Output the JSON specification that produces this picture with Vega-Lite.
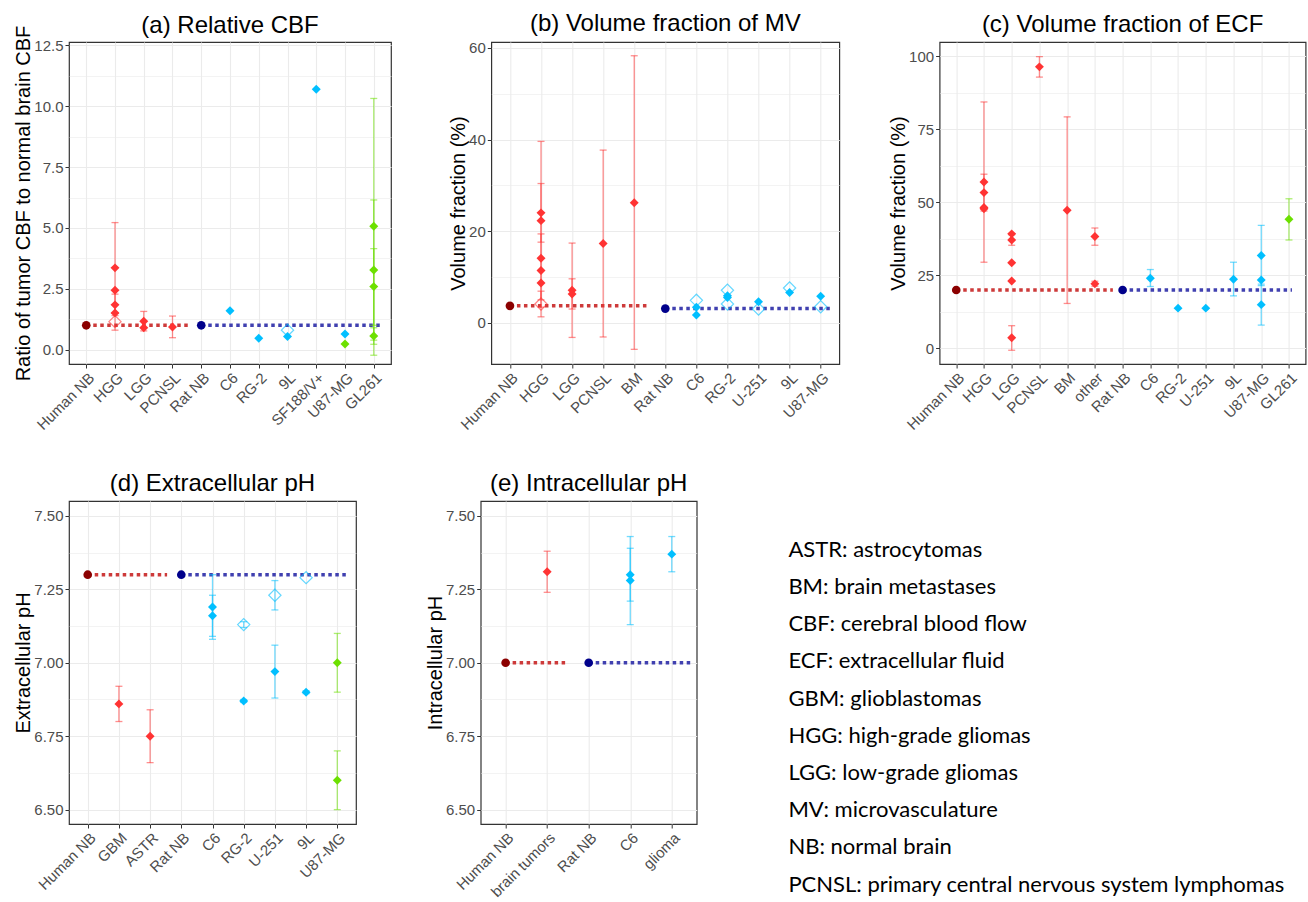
{
  "$schema": "https://vega.github.io/schema/vega-lite/v6.json",
  "padding": {"left": 13, "top": 11, "right": 0, "bottom": 0},
  "datasets": {
    "pts": [
      {"panel":"a","cat":"Human NB","group":"Human NB","series":"nb","value":1},
      {"panel":"a","cat":"HGG","group":"Human","series":"main","value":3.36,"lo":1.5,"hi":5.22},
      {"panel":"a","cat":"HGG","group":"Human","series":"main","value":2.44},
      {"panel":"a","cat":"HGG","group":"Human","series":"main","value":1.84,"lo":1.4,"hi":2.28},
      {"panel":"a","cat":"HGG","group":"Human","series":"main","value":1.51},
      {"panel":"a","cat":"HGG","group":"Human","series":"alt","value":1.15,"lo":0.8,"hi":1.5},
      {"panel":"a","cat":"LGG","group":"Human","series":"main","value":1.17,"lo":0.77,"hi":1.57},
      {"panel":"a","cat":"LGG","group":"Human","series":"main","value":0.9},
      {"panel":"a","cat":"PCNSL","group":"Human","series":"main","value":0.93,"lo":0.49,"hi":1.38},
      {"panel":"a","cat":"Rat NB","group":"Rat NB","series":"nb","value":1},
      {"panel":"a","cat":"C6","group":"Rat","series":"main","value":1.6},
      {"panel":"a","cat":"RG-2","group":"Rat","series":"main","value":0.47},
      {"panel":"a","cat":"9L","group":"Rat","series":"main","value":0.54},
      {"panel":"a","cat":"9L","group":"Rat","series":"alt","value":0.8},
      {"panel":"a","cat":"SF188/V+","group":"Rat","series":"main","value":10.7},
      {"panel":"a","cat":"U87-MG","group":"Rat","series":"main","value":0.64},
      {"panel":"a","cat":"U87-MG","group":"Mouse","series":"main","value":0.23},
      {"panel":"a","cat":"GL261","group":"Mouse","series":"main","value":5.07,"lo":-0.23,"hi":10.32},
      {"panel":"a","cat":"GL261","group":"Mouse","series":"main","value":3.27,"lo":0.39,"hi":6.15},
      {"panel":"a","cat":"GL261","group":"Mouse","series":"main","value":2.59,"lo":1.0,"hi":4.15},
      {"panel":"a","cat":"GL261","group":"Mouse","series":"main","value":0.56,"lo":0.22,"hi":0.9},

      {"panel":"b","cat":"Human NB","group":"Human NB","series":"nb","value":3.7},
      {"panel":"b","cat":"HGG","group":"Human","series":"main","value":24.0,"lo":17.6,"hi":30.4},
      {"panel":"b","cat":"HGG","group":"Human","series":"main","value":22.3,"lo":5.0,"hi":39.6},
      {"panel":"b","cat":"HGG","group":"Human","series":"main","value":14.1},
      {"panel":"b","cat":"HGG","group":"Human","series":"main","value":11.4,"lo":3.4,"hi":19.4},
      {"panel":"b","cat":"HGG","group":"Human","series":"main","value":8.7},
      {"panel":"b","cat":"HGG","group":"Human","series":"alt","value":4.1,"lo":1.3,"hi":6.9},
      {"panel":"b","cat":"LGG","group":"Human","series":"main","value":7.1,"lo":-3.2,"hi":17.4},
      {"panel":"b","cat":"LGG","group":"Human","series":"main","value":6.3,"lo":3.0,"hi":9.6},
      {"panel":"b","cat":"PCNSL","group":"Human","series":"main","value":17.3,"lo":-3.1,"hi":37.7},
      {"panel":"b","cat":"BM","group":"Human","series":"main","value":26.2,"lo":-5.8,"hi":58.3},
      {"panel":"b","cat":"Rat NB","group":"Rat NB","series":"nb","value":3.1},
      {"panel":"b","cat":"C6","group":"Rat","series":"main","value":3.4},
      {"panel":"b","cat":"C6","group":"Rat","series":"main","value":1.7},
      {"panel":"b","cat":"C6","group":"Rat","series":"alt","value":4.9},
      {"panel":"b","cat":"RG-2","group":"Rat","series":"main","value":5.9},
      {"panel":"b","cat":"RG-2","group":"Rat","series":"main","value":5.5},
      {"panel":"b","cat":"RG-2","group":"Rat","series":"alt","value":7.1},
      {"panel":"b","cat":"RG-2","group":"Rat","series":"alt","value":4.1},
      {"panel":"b","cat":"U-251","group":"Rat","series":"main","value":4.6},
      {"panel":"b","cat":"U-251","group":"Rat","series":"alt","value":3.0},
      {"panel":"b","cat":"9L","group":"Rat","series":"main","value":6.6},
      {"panel":"b","cat":"9L","group":"Rat","series":"alt","value":7.6},
      {"panel":"b","cat":"U87-MG","group":"Rat","series":"main","value":5.8},
      {"panel":"b","cat":"U87-MG","group":"Rat","series":"alt","value":3.5},

      {"panel":"c","cat":"Human NB","group":"Human NB","series":"nb","value":20},
      {"panel":"c","cat":"HGG","group":"Human","series":"main","value":56.9,"lo":29.5,"hi":84.3},
      {"panel":"c","cat":"HGG","group":"Human","series":"main","value":53.3,"lo":47.0,"hi":59.6},
      {"panel":"c","cat":"HGG","group":"Human","series":"main","value":48.2},
      {"panel":"c","cat":"HGG","group":"Human","series":"main","value":47.8},
      {"panel":"c","cat":"LGG","group":"Human","series":"main","value":39.2},
      {"panel":"c","cat":"LGG","group":"Human","series":"main","value":37.1,"lo":35.3,"hi":38.9},
      {"panel":"c","cat":"LGG","group":"Human","series":"main","value":29.3},
      {"panel":"c","cat":"LGG","group":"Human","series":"main","value":23.1},
      {"panel":"c","cat":"LGG","group":"Human","series":"main","value":3.7,"lo":-0.6,"hi":7.8},
      {"panel":"c","cat":"PCNSL","group":"Human","series":"main","value":96.3,"lo":92.8,"hi":99.8},
      {"panel":"c","cat":"BM","group":"Human","series":"main","value":47.3,"lo":15.4,"hi":79.2},
      {"panel":"c","cat":"other","group":"Human","series":"main","value":38.3,"lo":35.3,"hi":41.2},
      {"panel":"c","cat":"other","group":"Human","series":"main","value":22.1,"lo":21.3,"hi":23.0},
      {"panel":"c","cat":"Rat NB","group":"Rat NB","series":"nb","value":20},
      {"panel":"c","cat":"C6","group":"Rat","series":"main","value":24.0,"lo":21.2,"hi":27.0},
      {"panel":"c","cat":"RG-2","group":"Rat","series":"main","value":13.8},
      {"panel":"c","cat":"U-251","group":"Rat","series":"main","value":13.8},
      {"panel":"c","cat":"9L","group":"Rat","series":"main","value":23.7,"lo":18.0,"hi":29.5},
      {"panel":"c","cat":"U87-MG","group":"Rat","series":"main","value":31.8,"lo":21.5,"hi":42.1},
      {"panel":"c","cat":"U87-MG","group":"Rat","series":"main","value":23.4},
      {"panel":"c","cat":"U87-MG","group":"Rat","series":"main","value":15.0,"lo":8.0,"hi":22.0},
      {"panel":"c","cat":"GL261","group":"Mouse","series":"main","value":44.2,"lo":37.1,"hi":51.2},

      {"panel":"d","cat":"Human NB","group":"Human NB","series":"nb","value":7.3},
      {"panel":"d","cat":"GBM","group":"Human","series":"main","value":6.86,"lo":6.8,"hi":6.92},
      {"panel":"d","cat":"ASTR","group":"Human","series":"main","value":6.75,"lo":6.66,"hi":6.84},
      {"panel":"d","cat":"Rat NB","group":"Rat NB","series":"nb","value":7.3},
      {"panel":"d","cat":"C6","group":"Rat","series":"main","value":7.19,"lo":7.08,"hi":7.3},
      {"panel":"d","cat":"C6","group":"Rat","series":"main","value":7.16,"lo":7.09,"hi":7.23},
      {"panel":"d","cat":"RG-2","group":"Rat","series":"alt","value":7.13,"lo":7.12,"hi":7.14},
      {"panel":"d","cat":"RG-2","group":"Rat","series":"main","value":6.87,"lo":6.865,"hi":6.875},
      {"panel":"d","cat":"U-251","group":"Rat","series":"alt","value":7.23,"lo":7.18,"hi":7.28},
      {"panel":"d","cat":"U-251","group":"Rat","series":"main","value":6.97,"lo":6.88,"hi":7.06},
      {"panel":"d","cat":"9L","group":"Rat","series":"alt","value":7.29},
      {"panel":"d","cat":"9L","group":"Rat","series":"main","value":6.9,"lo":6.895,"hi":6.905},
      {"panel":"d","cat":"U87-MG","group":"Mouse","series":"main","value":7.0,"lo":6.9,"hi":7.1},
      {"panel":"d","cat":"U87-MG","group":"Mouse","series":"main","value":6.6,"lo":6.5,"hi":6.7},

      {"panel":"e","cat":"Human NB","group":"Human NB","series":"nb","value":7.0},
      {"panel":"e","cat":"brain tumors","group":"Human","series":"main","value":7.31,"lo":7.24,"hi":7.38},
      {"panel":"e","cat":"Rat NB","group":"Rat NB","series":"nb","value":7.0},
      {"panel":"e","cat":"C6","group":"Rat","series":"main","value":7.3,"lo":7.21,"hi":7.39},
      {"panel":"e","cat":"C6","group":"Rat","series":"main","value":7.28,"lo":7.13,"hi":7.43},
      {"panel":"e","cat":"glioma","group":"Rat","series":"main","value":7.37,"lo":7.31,"hi":7.43}
    ],
    "refs": [
      {"panel":"a","cat":"Human NB","end":"PCNSL","group":"Human ref","value":1},
      {"panel":"a","cat":"Rat NB","end":"GL261","group":"Rat ref","value":1},
      {"panel":"b","cat":"Human NB","end":"BM","group":"Human ref","value":3.7},
      {"panel":"b","cat":"Rat NB","end":"U87-MG","group":"Rat ref","value":3.1},
      {"panel":"c","cat":"Human NB","end":"other","group":"Human ref","value":20},
      {"panel":"c","cat":"Rat NB","end":"GL261","group":"Rat ref","value":20},
      {"panel":"d","cat":"Human NB","end":"ASTR","group":"Human ref","value":7.3},
      {"panel":"d","cat":"Rat NB","end":"U87-MG","group":"Rat ref","value":7.3},
      {"panel":"e","cat":"Human NB","end":"brain tumors","group":"Human ref","value":7.0},
      {"panel":"e","cat":"Rat NB","end":"glioma","group":"Rat ref","value":7.0}
    ],
    "abbr": [
      {"line":"ASTR: astrocytomas"},
      {"line":"BM: brain metastases"},
      {"line":"CBF: cerebral blood flow"},
      {"line":"ECF: extracellular fluid"},
      {"line":"GBM: glioblastomas"},
      {"line":"HGG: high-grade gliomas"},
      {"line":"LGG: low-grade gliomas"},
      {"line":"MV: microvasculature"},
      {"line":"NB: normal brain"},
      {"line":"PCNSL: primary central nervous system lymphomas"}
    ]
  },
  "vconcat": [
    {
      "hconcat": [
        {
          "width": 322, "height": 322,
          "title": {"text": "(a) Relative CBF", "offset": -13},
          "data": {"name": "pts"},
          "transform": [{"filter": "datum.panel == 'a'"}],
          "encoding": {
            "x": {"field": "cat", "type": "nominal", "title": null,
                  "scale": {"type": "point", "padding": 0.6, "domain": ["Human NB","HGG","LGG","PCNSL","Rat NB","C6","RG-2","9L","SF188/V+","U87-MG","GL261"]}},
            "y": {"field": "value", "type": "quantitative", "title": "Ratio of tumor CBF to normal brain CBF",
                  "scale": {"domain": [-0.59, 12.64], "nice": false, "zero": false},
                  "axis": {"values": [0,1.25,2.5,3.75,5,6.25,7.5,8.75,10,11.25,12.5],
                           "labelExpr": "datum.value % 2.5 == 0 ? format(datum.value, '.1f') : ''",
                           "tickOpacity": {"condition": {"test": "datum.value % 2.5 != 0", "value": 0}, "value": 1},
                           "gridWidth": {"condition": {"test": "datum.value % 2.5 != 0", "value": 0.6}, "value": 1.1}}},
            "color": {"field": "group", "type": "nominal", "legend": null,
                      "scale": {"domain": ["Human NB","Rat NB","Human","Rat","Mouse","Human ref","Rat ref"],
                                "range": ["#8B0000","#00008B","#FF3333","#00BFFF","#6CE000","#CD3A3A","#4040B0"]}}
          },
          "layer": [
            {"data": {"name": "refs"}, "transform": [{"filter": "datum.panel == 'a' && datum.group == 'Human ref'"}],
             "mark": {"type": "rule", "strokeDash": [3.5, 3.5], "strokeWidth": 3.5, "x2Offset": 17},
             "encoding": {"x2": {"field": "end"}}},
            {"data": {"name": "refs"}, "transform": [{"filter": "datum.panel == 'a' && datum.group == 'Rat ref'"}],
             "mark": {"type": "rule", "strokeDash": [3.5, 3.5], "strokeWidth": 3.5, "x2Offset": 7},
             "encoding": {"x2": {"field": "end"}}},
            {"transform": [{"filter": "isValid(datum.lo)"}],
             "mark": {"type": "rule", "opacity": 0.55, "strokeWidth": 1.3},
             "encoding": {"y": {"field": "lo", "type": "quantitative", "title": "Ratio of tumor CBF to normal brain CBF"}, "y2": {"field": "hi"}}},
            {"transform": [{"filter": "isValid(datum.lo)"}],
             "mark": {"type": "tick", "opacity": 0.55, "size": 7, "thickness": 1.3},
             "encoding": {"y": {"field": "lo", "type": "quantitative", "title": "Ratio of tumor CBF to normal brain CBF"}}},
            {"transform": [{"filter": "isValid(datum.hi)"}],
             "mark": {"type": "tick", "opacity": 0.55, "size": 7, "thickness": 1.3},
             "encoding": {"y": {"field": "hi", "type": "quantitative", "title": "Ratio of tumor CBF to normal brain CBF"}}},
            {"transform": [{"filter": "datum.series == 'alt'"}],
             "mark": {"type": "point", "shape": "diamond", "filled": false, "size": 150, "strokeWidth": 1.2, "opacity": 0.6}},
            {"transform": [{"filter": "datum.series == 'main'"}],
             "mark": {"type": "point", "shape": "diamond", "filled": true, "size": 80, "opacity": 1}},
            {"transform": [{"filter": "datum.series == 'nb'"}],
             "mark": {"type": "circle", "size": 75, "opacity": 1}}
          ]
        },
        {
          "width": 348, "height": 322,
          "title": "(b) Volume fraction of MV",
          "data": {"name": "pts"},
          "transform": [{"filter": "datum.panel == 'b'"}],
          "encoding": {
            "x": {"field": "cat", "type": "nominal", "title": null,
                  "scale": {"type": "point", "padding": 0.6, "domain": ["Human NB","HGG","LGG","PCNSL","BM","Rat NB","C6","RG-2","U-251","9L","U87-MG"]}},
            "y": {"field": "value", "type": "quantitative", "title": "Volume fraction (%)",
                  "scale": {"domain": [-9.0, 61.3], "nice": false, "zero": false},
                  "axis": {"values": [0,10,20,30,40,50,60],
                           "labelExpr": "datum.value % 20 == 0 ? format(datum.value, 'd') : ''",
                           "tickOpacity": {"condition": {"test": "datum.value % 20 != 0", "value": 0}, "value": 1},
                           "gridWidth": {"condition": {"test": "datum.value % 20 != 0", "value": 0.6}, "value": 1.1}}},
            "color": {"field": "group", "type": "nominal", "legend": null,
                      "scale": {"domain": ["Human NB","Rat NB","Human","Rat","Mouse","Human ref","Rat ref"],
                                "range": ["#8B0000","#00008B","#FF3333","#00BFFF","#6CE000","#CD3A3A","#4040B0"]}}
          },
          "layer": [
            {"data": {"name": "refs"}, "transform": [{"filter": "datum.panel == 'b' && datum.group == 'Human ref'"}],
             "mark": {"type": "rule", "strokeDash": [3.5, 3.5], "strokeWidth": 3.5, "x2Offset": 14},
             "encoding": {"x2": {"field": "end"}}},
            {"data": {"name": "refs"}, "transform": [{"filter": "datum.panel == 'b' && datum.group == 'Rat ref'"}],
             "mark": {"type": "rule", "strokeDash": [3.5, 3.5], "strokeWidth": 3.5, "x2Offset": 12},
             "encoding": {"x2": {"field": "end"}}},
            {"transform": [{"filter": "isValid(datum.lo)"}],
             "mark": {"type": "rule", "opacity": 0.55, "strokeWidth": 1.3},
             "encoding": {"y": {"field": "lo", "type": "quantitative", "title": "Volume fraction (%)"}, "y2": {"field": "hi"}}},
            {"transform": [{"filter": "isValid(datum.lo)"}],
             "mark": {"type": "tick", "opacity": 0.55, "size": 7, "thickness": 1.3},
             "encoding": {"y": {"field": "lo", "type": "quantitative", "title": "Volume fraction (%)"}}},
            {"transform": [{"filter": "isValid(datum.hi)"}],
             "mark": {"type": "tick", "opacity": 0.55, "size": 7, "thickness": 1.3},
             "encoding": {"y": {"field": "hi", "type": "quantitative", "title": "Volume fraction (%)"}}},
            {"transform": [{"filter": "datum.series == 'alt'"}],
             "mark": {"type": "point", "shape": "diamond", "filled": false, "size": 150, "strokeWidth": 1.2, "opacity": 0.6}},
            {"transform": [{"filter": "datum.series == 'main'"}],
             "mark": {"type": "point", "shape": "diamond", "filled": true, "size": 80, "opacity": 1}},
            {"transform": [{"filter": "datum.series == 'nb'"}],
             "mark": {"type": "circle", "size": 75, "opacity": 1}}
          ]
        },
        {
          "width": 366, "height": 322,
          "title": "(c) Volume fraction of ECF",
          "data": {"name": "pts"},
          "transform": [{"filter": "datum.panel == 'c'"}],
          "encoding": {
            "x": {"field": "cat", "type": "nominal", "title": null,
                  "scale": {"type": "point", "padding": 0.6, "domain": ["Human NB","HGG","LGG","PCNSL","BM","other","Rat NB","C6","RG-2","U-251","9L","U87-MG","GL261"]}},
            "y": {"field": "value", "type": "quantitative", "title": "Volume fraction (%)",
                  "scale": {"domain": [-5.3, 104.8], "nice": false, "zero": false},
                  "axis": {"values": [0,12.5,25,37.5,50,62.5,75,87.5,100],
                           "labelExpr": "datum.value % 25 == 0 ? format(datum.value, 'd') : ''",
                           "tickOpacity": {"condition": {"test": "datum.value % 25 != 0", "value": 0}, "value": 1},
                           "gridWidth": {"condition": {"test": "datum.value % 25 != 0", "value": 0.6}, "value": 1.1}}},
            "color": {"field": "group", "type": "nominal", "legend": null,
                      "scale": {"domain": ["Human NB","Rat NB","Human","Rat","Mouse","Human ref","Rat ref"],
                                "range": ["#8B0000","#00008B","#FF3333","#00BFFF","#6CE000","#CD3A3A","#4040B0"]}}
          },
          "layer": [
            {"data": {"name": "refs"}, "transform": [{"filter": "datum.panel == 'c' && datum.group == 'Human ref'"}],
             "mark": {"type": "rule", "strokeDash": [3.5, 3.5], "strokeWidth": 3.5, "x2Offset": 18},
             "encoding": {"x2": {"field": "end"}}},
            {"data": {"name": "refs"}, "transform": [{"filter": "datum.panel == 'c' && datum.group == 'Rat ref'"}],
             "mark": {"type": "rule", "strokeDash": [3.5, 3.5], "strokeWidth": 3.5, "x2Offset": 3},
             "encoding": {"x2": {"field": "end"}}},
            {"transform": [{"filter": "isValid(datum.lo)"}],
             "mark": {"type": "rule", "opacity": 0.55, "strokeWidth": 1.3},
             "encoding": {"y": {"field": "lo", "type": "quantitative", "title": "Volume fraction (%)"}, "y2": {"field": "hi"}}},
            {"transform": [{"filter": "isValid(datum.lo)"}],
             "mark": {"type": "tick", "opacity": 0.55, "size": 7, "thickness": 1.3},
             "encoding": {"y": {"field": "lo", "type": "quantitative", "title": "Volume fraction (%)"}}},
            {"transform": [{"filter": "isValid(datum.hi)"}],
             "mark": {"type": "tick", "opacity": 0.55, "size": 7, "thickness": 1.3},
             "encoding": {"y": {"field": "hi", "type": "quantitative", "title": "Volume fraction (%)"}}},
            {"transform": [{"filter": "datum.series == 'alt'"}],
             "mark": {"type": "point", "shape": "diamond", "filled": false, "size": 150, "strokeWidth": 1.2, "opacity": 0.6}},
            {"transform": [{"filter": "datum.series == 'main'"}],
             "mark": {"type": "point", "shape": "diamond", "filled": true, "size": 80, "opacity": 1}},
            {"transform": [{"filter": "datum.series == 'nb'"}],
             "mark": {"type": "circle", "size": 75, "opacity": 1}}
          ]
        }
      ],
      "spacing": 100.3,
      "bounds": "flush"
    },
    {
      "hconcat": [
        {
          "width": 287, "height": 323,
          "title": "(d) Extracellular pH",
          "data": {"name": "pts"},
          "transform": [{"filter": "datum.panel == 'd'"}],
          "encoding": {
            "x": {"field": "cat", "type": "nominal", "title": null,
                  "scale": {"type": "point", "padding": 0.6, "domain": ["Human NB","GBM","ASTR","Rat NB","C6","RG-2","U-251","9L","U87-MG"]}},
            "y": {"field": "value", "type": "quantitative", "title": "Extracellular pH",
                  "scale": {"domain": [6.451, 7.551], "nice": false, "zero": false},
                  "axis": {"values": [6.5,6.625,6.75,6.875,7,7.125,7.25,7.375,7.5],
                           "labelExpr": "abs(datum.value*4 - round(datum.value*4)) < 0.01 ? format(datum.value, '.2f') : ''",
                           "tickOpacity": {"condition": {"test": "abs(datum.value*4 - round(datum.value*4)) > 0.01", "value": 0}, "value": 1},
                           "gridWidth": {"condition": {"test": "abs(datum.value*4 - round(datum.value*4)) > 0.01", "value": 0.6}, "value": 1.1}}},
            "color": {"field": "group", "type": "nominal", "legend": null,
                      "scale": {"domain": ["Human NB","Rat NB","Human","Rat","Mouse","Human ref","Rat ref"],
                                "range": ["#8B0000","#00008B","#FF3333","#00BFFF","#6CE000","#CD3A3A","#4040B0"]}}
          },
          "layer": [
            {"data": {"name": "refs"}, "transform": [{"filter": "datum.panel == 'd' && datum.group == 'Human ref'"}],
             "mark": {"type": "rule", "strokeDash": [3.5, 3.5], "strokeWidth": 3.5, "x2Offset": 17},
             "encoding": {"x2": {"field": "end"}}},
            {"data": {"name": "refs"}, "transform": [{"filter": "datum.panel == 'd' && datum.group == 'Rat ref'"}],
             "mark": {"type": "rule", "strokeDash": [3.5, 3.5], "strokeWidth": 3.5, "x2Offset": 12},
             "encoding": {"x2": {"field": "end"}}},
            {"transform": [{"filter": "isValid(datum.lo)"}],
             "mark": {"type": "rule", "opacity": 0.55, "strokeWidth": 1.3},
             "encoding": {"y": {"field": "lo", "type": "quantitative", "title": "Extracellular pH"}, "y2": {"field": "hi"}}},
            {"transform": [{"filter": "isValid(datum.lo)"}],
             "mark": {"type": "tick", "opacity": 0.55, "size": 7, "thickness": 1.3},
             "encoding": {"y": {"field": "lo", "type": "quantitative", "title": "Extracellular pH"}}},
            {"transform": [{"filter": "isValid(datum.hi)"}],
             "mark": {"type": "tick", "opacity": 0.55, "size": 7, "thickness": 1.3},
             "encoding": {"y": {"field": "hi", "type": "quantitative", "title": "Extracellular pH"}}},
            {"transform": [{"filter": "datum.series == 'alt'"}],
             "mark": {"type": "point", "shape": "diamond", "filled": false, "size": 150, "strokeWidth": 1.2, "opacity": 0.6}},
            {"transform": [{"filter": "datum.series == 'main'"}],
             "mark": {"type": "point", "shape": "diamond", "filled": true, "size": 80, "opacity": 1}},
            {"transform": [{"filter": "datum.series == 'nb'"}],
             "mark": {"type": "circle", "size": 75, "opacity": 1}}
          ]
        },
        {
          "width": 216, "height": 323,
          "title": "(e) Intracellular pH",
          "data": {"name": "pts"},
          "transform": [{"filter": "datum.panel == 'e'"}],
          "encoding": {
            "x": {"field": "cat", "type": "nominal", "title": null,
                  "scale": {"type": "point", "padding": 0.6, "domain": ["Human NB","brain tumors","Rat NB","C6","glioma"]}},
            "y": {"field": "value", "type": "quantitative", "title": "Intracellular pH",
                  "scale": {"domain": [6.451, 7.551], "nice": false, "zero": false},
                  "axis": {"values": [6.5,6.625,6.75,6.875,7,7.125,7.25,7.375,7.5],
                           "labelExpr": "abs(datum.value*4 - round(datum.value*4)) < 0.01 ? format(datum.value, '.2f') : ''",
                           "tickOpacity": {"condition": {"test": "abs(datum.value*4 - round(datum.value*4)) > 0.01", "value": 0}, "value": 1},
                           "gridWidth": {"condition": {"test": "abs(datum.value*4 - round(datum.value*4)) > 0.01", "value": 0.6}, "value": 1.1}}},
            "color": {"field": "group", "type": "nominal", "legend": null,
                      "scale": {"domain": ["Human NB","Rat NB","Human","Rat","Mouse","Human ref","Rat ref"],
                                "range": ["#8B0000","#00008B","#FF3333","#00BFFF","#6CE000","#CD3A3A","#4040B0"]}}
          },
          "layer": [
            {"data": {"name": "refs"}, "transform": [{"filter": "datum.panel == 'e' && datum.group == 'Human ref'"}],
             "mark": {"type": "rule", "strokeDash": [3.5, 3.5], "strokeWidth": 3.5, "x2Offset": 20},
             "encoding": {"x2": {"field": "end"}}},
            {"data": {"name": "refs"}, "transform": [{"filter": "datum.panel == 'e' && datum.group == 'Rat ref'"}],
             "mark": {"type": "rule", "strokeDash": [3.5, 3.5], "strokeWidth": 3.5, "x2Offset": 21},
             "encoding": {"x2": {"field": "end"}}},
            {"transform": [{"filter": "isValid(datum.lo)"}],
             "mark": {"type": "rule", "opacity": 0.55, "strokeWidth": 1.3},
             "encoding": {"y": {"field": "lo", "type": "quantitative", "title": "Intracellular pH"}, "y2": {"field": "hi"}}},
            {"transform": [{"filter": "isValid(datum.lo)"}],
             "mark": {"type": "tick", "opacity": 0.55, "size": 7, "thickness": 1.3},
             "encoding": {"y": {"field": "lo", "type": "quantitative", "title": "Intracellular pH"}}},
            {"transform": [{"filter": "isValid(datum.hi)"}],
             "mark": {"type": "tick", "opacity": 0.55, "size": 7, "thickness": 1.3},
             "encoding": {"y": {"field": "hi", "type": "quantitative", "title": "Intracellular pH"}}},
            {"transform": [{"filter": "datum.series == 'main'"}],
             "mark": {"type": "point", "shape": "diamond", "filled": true, "size": 80, "opacity": 1}},
            {"transform": [{"filter": "datum.series == 'nb'"}],
             "mark": {"type": "circle", "size": 75, "opacity": 1}}
          ]
        },
        {
          "width": 2, "height": 323,
          "view": {"stroke": null},
          "data": {"name": "abbr"},
          "mark": {"type": "text", "align": "left", "baseline": "middle", "font": "Lato", "fontSize": 22, "color": "#000000", "dx": -34},
          "encoding": {
            "y": {"field": "line", "type": "nominal", "sort": null, "scale": {"type": "point", "padding": 0, "range": [48.7, 383.7]}, "axis": null},
            "text": {"field": "line"}
          }
        }
      ],
      "spacing": 124.7,
      "bounds": "flush"
    }
  ],
  "spacing": 37,
  "config": {
    "font": "Liberation Sans",
    "view": {"stroke": "#333333", "strokeWidth": 1.2},
    "axis": {"domain": false, "grid": true, "gridColor": "#EBEBEB", "tickColor": "#333333", "tickSize": 4, "tickWidth": 1,
             "labelColor": "#4D4D4D", "labelFontSize": 15, "labelPadding": 2, "labelOverlap": false,
             "titleFontSize": 20, "titleFontWeight": "normal", "titleColor": "#000000", "titlePadding": 0},
    "axisX": {"labelAngle": -45, "gridWidth": 1.1},
    "title": {"fontSize": 24, "fontWeight": "normal", "color": "#000000", "offset": 5, "frame": "group"}
  }
}
